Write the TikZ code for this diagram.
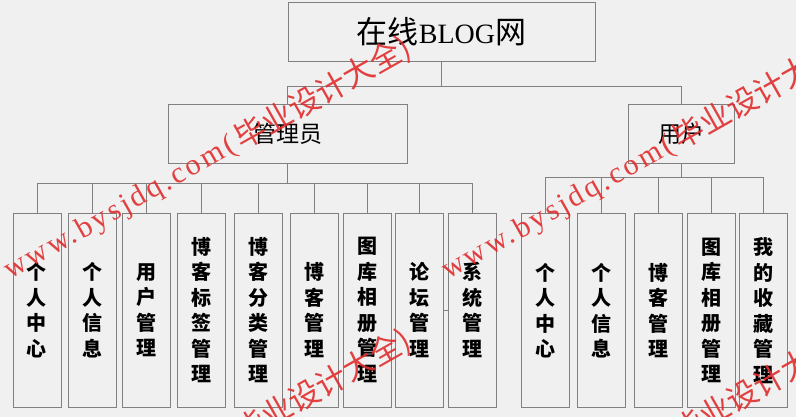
\documentclass[tikz,border=0pt]{standalone}
\usepackage{fontspec}
\newfontfamily\cjk{Noto Sans CJK SC}
\newfontfamily\lser{Liberation Serif}
\newfontfamily\wmlatin{Liberation Serif}[LetterSpace=10]
\definecolor{bg}{RGB}{240,240,240}
\definecolor{ln}{RGB}{128,128,128}
\definecolor{wm}{RGB}{225,45,45}
\newcommand\wmk[3]{%
  \begin{scope}[shift={(#2,#3)}]
    \node[wmtxt,anchor=base west,font=\wmlatin\fontsize{30}{30}\selectfont] (#1a) at (10,280) {www.bysjdq.com(};
    \node[wmtxt,anchor=base west,font=\cjk\fontsize{31}{31}\selectfont] (#1b) at (242,151) {毕业设计大全)};
  \end{scope}}
\begin{document}
\begin{tikzpicture}[x=1pt,y=-1pt,
  box/.style={draw=ln,line width=0.8pt,fill=bg,inner sep=0pt,align=center},
  leaf/.style={box,minimum width=48pt,minimum height=194pt,font=\cjk\bfseries\fontsize{20}{25.5}\selectfont},
  mid/.style={box,minimum height=59pt,font=\cjk\fontsize{23}{23}\selectfont},
  conn/.style={draw=ln,line width=0.8pt},
  wmtxt/.style={text=wm,rotate=29.5,inner sep=0pt,opacity=0.9}]
\fill[bg] (0,0) rectangle (796,417);
\useasboundingbox (0,0) rectangle (796,417);
\clip (0,0) rectangle (796,417);

\node[box,minimum width=307pt,minimum height=59pt] (top) at (441.5,31.5)
  {{\cjk\fontsize{31}{31}\selectfont 在线}{\lser\fontsize{28}{28}\selectfont BLOG}{\cjk\fontsize{31}{31}\selectfont 网}};
\node[mid,minimum width=239pt] (admin) at (287.5,133.5) {管理员};
\node[mid,minimum width=106pt] (user) at (681,133.5) {用户};

\node[leaf] (a1) at (37,310) {个\\人\\中\\心};
\node[leaf] (a2) at (92,310) {个\\人\\信\\息};
\node[leaf] (a3) at (146.5,310) {用\\户\\管\\理};
\node[leaf] (a4) at (201,310) {博\\客\\标\\签\\管\\理};
\node[leaf] (a5) at (258,310) {博\\客\\分\\类\\管\\理};
\node[leaf] (a6) at (314.5,310) {博\\客\\管\\理};
\node[leaf] (a7) at (367,310) {图\\库\\相\\册\\管\\理};
\node[leaf] (a8) at (419.5,310) {论\\坛\\管\\理};
\node[leaf] (a9) at (472,310) {系\\统\\管\\理};

\node[leaf] (u1) at (545,310.5) {个\\人\\中\\心};
\node[leaf] (u2) at (601.5,310.5) {个\\人\\信\\息};
\node[leaf] (u3) at (658.5,310.5) {博\\客\\管\\理};
\node[leaf] (u4) at (711,310.5) {图\\库\\相\\册\\管\\理};
\node[leaf] (u5) at (763.5,310.5) {我\\的\\收\\藏\\管\\理};

\coordinate (bus0) at (0,86);
\coordinate (bus1) at (0,183);
\coordinate (bus2) at (0,177);
\draw[conn] (top.south) -- (top.south |- bus0);
\draw[conn] (admin.north) |- (user.north |- bus0) -- (user.north);
\draw[conn] (admin.south) -- (admin.south |- bus1);
\draw[conn] (a1.north) |- (a9.north |- bus1) -- (a9.north);
\foreach \n in {a2,a3,a4,a5,a6,a7,a8}
  \draw[conn] (\n.north) -- (\n.north |- bus1);
\draw[conn] (user.south) -- (user.south |- bus2);
\draw[conn] (u1.north) |- (u5.north |- bus2) -- (u5.north);
\foreach \n in {u2,u3,u4}
  \draw[conn] (\n.north) -- (\n.north |- bus2);
\draw[conn] (a8.east) -- (a9.west);

\wmk{wmA}{0}{0}
\wmk{wmB}{438}{0}
\wmk{wmC}{0}{293}
\wmk{wmD}{438}{293}
\end{tikzpicture}
\end{document}
